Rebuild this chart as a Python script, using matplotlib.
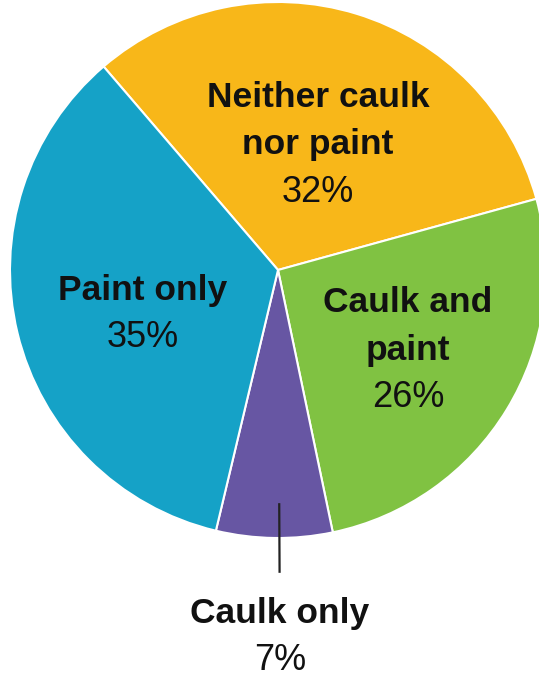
import numpy as np
import matplotlib.pyplot as plt

# Share of homes by caulk / paint treatment
names = ['Neither caulk\nnor paint', 'Caulk and\npaint', 'Caulk only', 'Paint only']
shares = [32, 26, 7, 35]
colors = ['#F8B719', '#80C242', '#6756A3', '#15A2C7']

# label block centres in polar form: (radius, angle in degrees), pie radius = 1
label_polar = [(0.49, 72.3), (0.57, -31.6), (1.37, -89.7), (0.53, 198.0)]

FAMILY = ['Liberation Sans', 'DejaVu Sans']
BOLD = {'family': FAMILY, 'weight': 'bold', 'size': 25.5}
LIGHT = {'family': FAMILY, 'weight': 'normal', 'size': 26}
LINE_PT = 34  # vertical pitch between label lines, in points


def draw_label(ax, x, y, name, share):
    """Stack the bold name lines and the percentage around (x, y)."""
    lines = name.split('\n')
    n = len(lines) + 1
    for i, line in enumerate(lines):
        off = ((n - 1) / 2 - i) * LINE_PT
        ax.annotate(line, (x, y), xytext=(0, off), textcoords='offset points',
                    ha='center', va='center', color='#111111', **BOLD)
    off = -(n - 1) / 2 * LINE_PT
    ax.annotate(f'{share}%', (x, y), xytext=(0, off), textcoords='offset points',
                ha='center', va='center', color='#111111', **LIGHT)


def main():
    fig = plt.figure(figsize=(5.39, 6.78), dpi=100)
    ax = fig.add_axes([0, 0, 1, 1])

    wedges, _ = ax.pie(shares, colors=colors, startangle=130.6, counterclock=False,
                       wedgeprops={'edgecolor': 'white', 'linewidth': 1.5})

    for name, share, (r, ang) in zip(names, shares, label_polar):
        a = np.deg2rad(ang)
        draw_label(ax, r * np.cos(a), r * np.sin(a), name, share)
        if r > 1:
            # leader line for the label that sits outside the pie
            ax.plot([0.87 * np.cos(a), 1.13 * np.cos(a)],
                    [0.87 * np.sin(a), 1.13 * np.sin(a)],
                    color='#222222', linewidth=1.6, solid_capstyle='butt')

    ax.set_xlim(-278 / 268, 261 / 268)
    ax.set_ylim(-408 / 268, 270 / 268)
    ax.set_aspect('auto')
    ax.axis('off')

    fig.savefig('out.png', dpi=100, facecolor='white')


if __name__ == '__main__':
    main()
